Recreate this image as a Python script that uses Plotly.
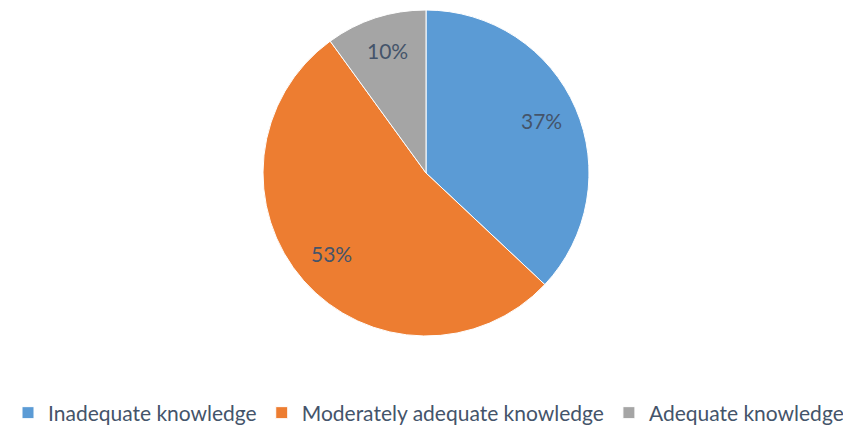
import math
import plotly.graph_objects as go

categories = ["Inadequate knowledge", "Moderately adequate knowledge", "Adequate knowledge"]
values = [37, 53, 10]
colors = ["#5B9BD5", "#ED7D31", "#A5A5A5"]

W, H = 851, 428
OFF = 8  # default page body margin

# pie geometry in figure pixels
CX, CY, R = 426 - OFF, 173 - OFF, 163
LABEL_R = 0.77

fig = go.Figure(go.Pie(
    labels=categories,
    values=values,
    sort=False,
    direction="clockwise",
    rotation=0,
    marker=dict(colors=colors, line=dict(color="white", width=1)),
    textinfo="none",
    domain=dict(x=[(CX - R) / W, (CX + R) / W], y=[1 - (CY + R) / H, 1 - (CY - R) / H]),
    showlegend=True,
    hoverinfo="label+percent",
))

# data labels placed along each slice's mid-angle (Excel-like)
total = sum(values)
cum = 0
for v in values:
    mid = (cum + v / 2) / total * 2 * math.pi
    cum += v
    px = CX + LABEL_R * R * math.sin(mid)
    py = CY - LABEL_R * R * math.cos(mid) - 3
    fig.add_annotation(
        x=px / W, y=1 - py / H, xref="paper", yref="paper",
        text=f"{round(v / total * 100)}%", showarrow=False,
        font=dict(family="Lato", size=21, color="#44546A"),
        xanchor="center", yanchor="middle",
    )

fig.update_layout(
    width=W, height=H,
    margin=dict(l=0, r=0, t=0, b=0),
    paper_bgcolor="white",
    font=dict(family="Lato", size=21, color="#44546A"),
    legend=dict(
        orientation="h",
        x=0.5 - 16 / W, xanchor="center",
        y=(H - (413 - OFF)) / H, yanchor="middle",
        font=dict(family="Lato", size=21, color="#44546A"),
        itemclick=False,
    ),
)

fig.write_html("out.html")
